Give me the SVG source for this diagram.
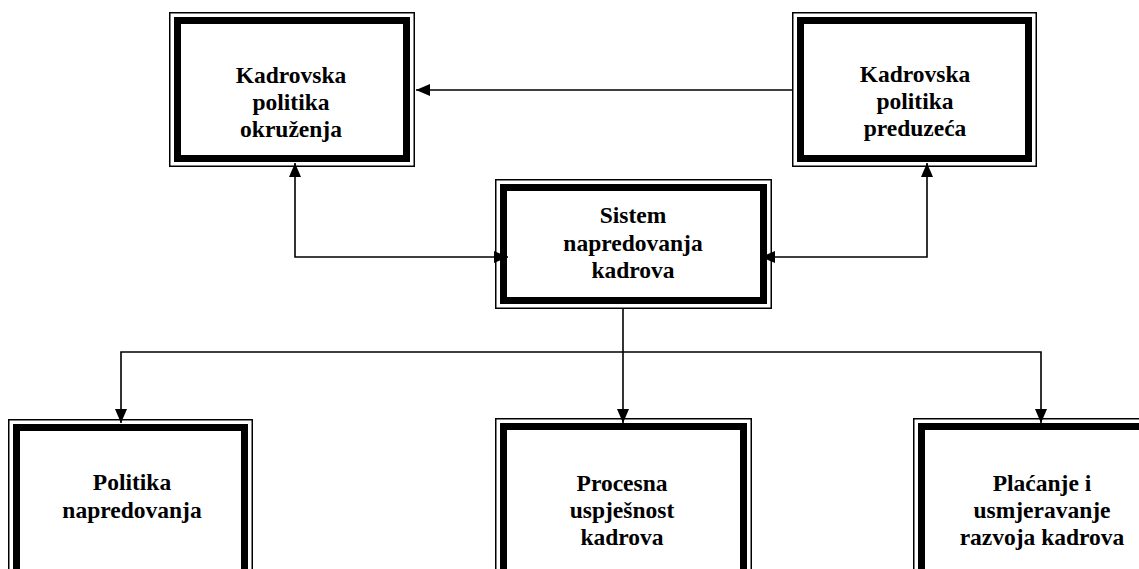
<svg xmlns="http://www.w3.org/2000/svg" width="1139" height="569" viewBox="0 0 1139 569">
<style>
.thin{fill:none;stroke:#000;stroke-width:1.5}
.thick{fill:none;stroke:#000;stroke-width:7}
.bg{fill:#fff}
.t{font-family:"Liberation Serif","Times New Roman",serif;font-weight:bold;font-size:23.5px;fill:#000;text-anchor:middle}
.c{fill:none;stroke:#000;stroke-width:1.6}
</style>
<defs>
<marker id="ah" markerUnits="userSpaceOnUse" markerWidth="14" markerHeight="12" refX="14" refY="6" orient="auto">
<path d="M0,0 L14,6 L0,12 z" fill="#000"/>
</marker>
<marker id="as" markerUnits="userSpaceOnUse" markerWidth="14" markerHeight="12" refX="0" refY="6" orient="auto">
<path d="M14,0 L0,6 L14,12 z" fill="#000"/>
</marker>
</defs>
<rect width="1139" height="569" fill="#fff"/>
<g id="connectors">
<line class="c" x1="793" y1="90" x2="416" y2="90" marker-end="url(#ah)"/>
<polyline class="c" points="295,163 295,257 508,257" marker-start="url(#as)" marker-end="url(#ah)"/>
<polyline class="c" points="927,163 927,257 761,257" marker-start="url(#as)" marker-end="url(#ah)"/>
<line class="c" x1="623" y1="309" x2="623" y2="423" marker-end="url(#ah)"/>
<polyline class="c" points="121,423 121,352 1041,352 1041,423" marker-start="url(#as)" marker-end="url(#ah)"/>
</g>
<g id="n1">
<rect class="thin" x="169.75" y="12.75" width="244.5" height="153.5"/>
<rect class="thick" x="177.5" y="20.5" width="229" height="138"/>
<text class="t" x="291" y="83">Kadrovska</text>
<text class="t" x="291" y="110">politika</text>
<text class="t" x="291" y="137">okruženja</text>
</g>
<g id="n2">
<rect class="thin" x="792.75" y="12.75" width="243.5" height="153.5"/>
<rect class="thick" x="800.5" y="20.5" width="228" height="138"/>
<text class="t" x="915" y="82">Kadrovska</text>
<text class="t" x="915" y="109">politika</text>
<text class="t" x="915" y="136">preduzeća</text>
</g>
<g id="n3">
<rect class="thin" x="495.75" y="179.75" width="275.5" height="128.5"/>
<rect class="thick" x="503.5" y="187.5" width="260" height="113"/>
<text class="t" x="633" y="223">Sistem</text>
<text class="t" x="633" y="251">napredovanja</text>
<text class="t" x="633" y="278">kadrova</text>
</g>
<g id="n4">
<rect class="thin" x="8.75" y="419.75" width="243.5" height="200"/>
<rect class="thick" x="16.5" y="427.5" width="228" height="200"/>
<text class="t" x="132" y="490">Politika</text>
<text class="t" x="132" y="518">napredovanja</text>
</g>
<g id="n5">
<rect class="thin" x="495.75" y="418.75" width="255.5" height="200"/>
<rect class="thick" x="503.5" y="426.5" width="240" height="200"/>
<text class="t" x="622" y="491">Procesna</text>
<text class="t" x="622" y="518">uspješnost</text>
<text class="t" x="622" y="545">kadrova</text>
</g>
<g id="n6">
<rect class="thin" x="913.75" y="418.75" width="258" height="200"/>
<rect class="thick" x="921.5" y="426.5" width="243" height="200"/>
<text class="t" x="1042" y="491">Plaćanje i</text>
<text class="t" x="1042" y="518">usmjeravanje</text>
<text class="t" x="1042" y="545">razvoja kadrova</text>
</g>
</svg>
